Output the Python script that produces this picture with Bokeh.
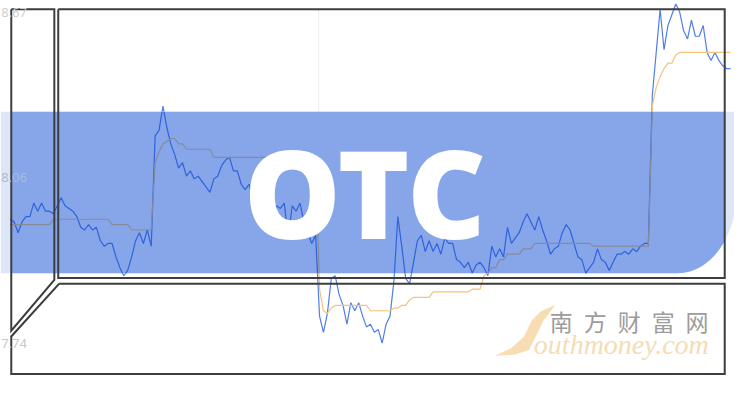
import numpy as np
from bokeh.plotting import figure
from bokeh.models import Range1d
from bokeh.core.properties import value
from bokeh.embed import file_html
from bokeh.resources import INLINE

# ---------------- data ----------------
price_close = [
    7.90, 7.89, 7.85, 7.89, 7.91, 7.91, 7.96, 7.93, 7.96, 7.93,
    7.93, 7.92, 7.95, 7.98, 7.95, 7.94, 7.93, 7.91, 7.87, 7.86,
    7.88, 7.86, 7.87, 7.82, 7.80, 7.81, 7.81, 7.76, 7.72, 7.69,
    7.71, 7.76, 7.82, 7.85, 7.81, 7.86, 7.80, 8.21, 8.23, 8.32,
    8.24, 8.18, 8.14, 8.09, 8.11, 8.06, 8.08, 8.05, 8.06, 8.04,
    8.02, 8.00, 8.05, 8.06, 8.10, 8.12, 8.13, 8.08, 8.08, 8.03,
    8.01, 8.03, 7.98, 7.96, 7.95, 7.96, 7.93, 7.92, 7.95, 7.94,
    7.96, 7.83, 7.95, 7.93, 7.96, 7.89, 7.85, 7.81, 7.84, 7.54,
    7.48, 7.55, 7.68, 7.69, 7.62, 7.58, 7.51, 7.59, 7.56, 7.59,
    7.54, 7.50, 7.51, 7.48, 7.49, 7.44, 7.51, 7.54, 7.67, 7.91,
    7.80, 7.68, 7.66, 7.74, 7.82, 7.84, 7.78, 7.82, 7.78, 7.81,
    7.77, 7.83, 7.81, 7.81, 7.75, 7.74, 7.72, 7.74, 7.70, 7.73,
    7.74, 7.72, 7.69, 7.80, 7.76, 7.79, 7.76, 7.87, 7.81, 7.83,
    7.85, 7.89, 7.92, 7.89, 7.86, 7.91, 7.86, 7.82, 7.77, 7.79,
    7.80, 7.85, 7.88, 7.86, 7.81, 7.76, 7.75, 7.70, 7.72, 7.74,
    7.79, 7.75, 7.74, 7.71, 7.74, 7.77, 7.77, 7.78, 7.77, 7.79,
    7.78, 7.80, 7.81, 7.81, 8.36, 8.52, 8.68, 8.53, 8.62, 8.66,
    8.70, 8.67, 8.60, 8.57, 8.64, 8.58, 8.58, 8.62, 8.52, 8.49,
    8.52, 8.49, 8.47, 8.46, 8.46,
]

price_avg = [
    7.88, 7.88, 7.88, 7.88, 7.88, 7.88, 7.88, 7.88, 7.88, 7.88,
    7.88, 7.90, 7.90, 7.90, 7.90, 7.90, 7.90, 7.90, 7.90, 7.90,
    7.90, 7.90, 7.90, 7.90, 7.90, 7.90, 7.88, 7.88, 7.88, 7.88,
    7.88, 7.86, 7.86, 7.86, 7.86, 7.86, 7.86, 8.11, 8.15, 8.18,
    8.19, 8.20, 8.20, 8.18, 8.18, 8.16, 8.16, 8.16, 8.16, 8.16,
    8.16, 8.16, 8.13, 8.13, 8.13, 8.13, 8.13, 8.13, 8.13, 8.13,
    8.13, 8.13, 8.13, 8.13, 8.13, 8.13, 8.13, 8.13, 8.13, 8.13,
    8.13, 8.13, 8.13, 8.13, 8.13, 8.13, 8.13, 8.13, 8.13, 7.64,
    7.56, 7.55, 7.57, 7.58, 7.58, 7.58, 7.58, 7.58, 7.58, 7.58,
    7.58, 7.58, 7.56, 7.56, 7.56, 7.56, 7.56, 7.56, 7.57, 7.57,
    7.58, 7.58, 7.60, 7.61, 7.61, 7.61, 7.61, 7.61, 7.63, 7.63,
    7.63, 7.63, 7.63, 7.63, 7.63, 7.63, 7.63, 7.63, 7.64, 7.64,
    7.64, 7.69, 7.70, 7.72, 7.72, 7.75, 7.75, 7.77, 7.77, 7.77,
    7.77, 7.79, 7.79, 7.79, 7.81, 7.81, 7.81, 7.81, 7.81, 7.81,
    7.81, 7.81, 7.81, 7.81, 7.81, 7.81, 7.81, 7.81, 7.81, 7.80,
    7.80, 7.80, 7.80, 7.80, 7.80, 7.80, 7.80, 7.80, 7.80, 7.80,
    7.80, 7.80, 7.80, 7.80, 8.32, 8.39, 8.43, 8.46, 8.48, 8.48,
    8.51, 8.52, 8.52, 8.52, 8.52, 8.52, 8.52, 8.52, 8.52, 8.52,
    8.52, 8.52, 8.52, 8.52, 8.52,
]

tick_labels = ["8.67", "8.06", "7.74"]
headline = "OTC"
brand_cn = ["南", "方", "财", "富", "网"]
brand_en = "outhmoney.com"

# ---------------- layout (reference pixel space, 750 x 400) ----------------
X0, X1, Y0, Y1 = 0, 750, 0, 400
DAY_X0, DAY_DX = 10, 4
PRICE_REF, PRICE_REF_Y, PX_PER_UNIT = 8.67, 12, 171 / 0.61
BAND_TOP, BAND_BOT = 116, 284
EC_X, EC_Y, EC_RX, EC_RY = 692, 200, 60, 84   # rounded band corner


def price_at(y):
    return PRICE_REF - (y - PRICE_REF_Y) / PX_PER_UNIT


def day_at(x):
    return (x - DAY_X0) / DAY_DX


def clip_band(xs, ys, lo, hi):
    lines_x, lines_y = [], []
    cur_x = cur_y = None
    for k in range(len(xs) - 1):
        x0, y0, x1, y1 = float(xs[k]), ys[k], float(xs[k + 1]), ys[k + 1]
        if y1 == y0:
            if not (lo <= y0 <= hi):
                cur_x = None
                continue
            t0, t1 = 0.0, 1.0
        else:
            ta, tb = (lo - y0) / (y1 - y0), (hi - y0) / (y1 - y0)
            t0, t1 = max(0.0, min(ta, tb)), min(1.0, max(ta, tb))
            if t0 >= t1:
                cur_x = None
                continue
        ax, ay = x0 + (x1 - x0) * t0, y0 + (y1 - y0) * t0
        bx, by = x0 + (x1 - x0) * t1, y0 + (y1 - y0) * t1
        if cur_x is not None and t0 == 0.0:
            cur_x.append(bx)
            cur_y.append(by)
        else:
            cur_x, cur_y = [ax, bx], [ay, by]
            lines_x.append(cur_x)
            lines_y.append(cur_y)
        if t1 < 1.0:
            cur_x = None
    return lines_x, lines_y


p = figure(width=734, height=384, x_range=Range1d(X0, X1), y_range=Range1d(Y1, Y0),
           output_backend="svg", toolbar_location=None, min_border=0,
           x_axis_location=None, y_axis_location=None,
           background_fill_color="white", border_fill_color="white",
           outline_line_color=None)
p.grid.visible = False
p.extra_x_ranges = {"day": Range1d(day_at(X0), day_at(X1))}
p.extra_y_ranges = {"price": Range1d(price_at(Y1), price_at(Y0))}

days = np.arange(len(price_close))

# faint grid line
p.segment(x0=[325], y0=[9], x1=[325], y1=[289], line_color="#ececec", line_width=1)

# lines (outside band colours)
p.line(days, price_close, x_range_name="day", y_range_name="price",
       line_color="#4f7fe8", line_width=1.2)
p.line(days, price_avg, x_range_name="day", y_range_name="price",
       line_color="#f3c47a", line_width=1.2)

# band: light full shape, darker inside the frames
th_full = np.linspace(np.pi / 2, 0, 40)
lx = [0, EC_X + EC_RX, EC_X + EC_RX] + list(EC_X + EC_RX * np.sin(th_full)) + [0]
ly = [BAND_TOP, BAND_TOP, EC_Y] + list(EC_Y + EC_RY * np.cos(th_full)) + [BAND_BOT]
p.patch(lx, ly, fill_color="#dde6f7", line_color=None)

th_in = np.linspace(np.arcsin((740 - EC_X) / EC_RX), 0, 30)
dx = [11, 740] + list(EC_X + EC_RX * np.sin(th_in)) + [11]
dy = [BAND_TOP, BAND_TOP] + list(EC_Y + EC_RY * np.cos(th_in)) + [BAND_BOT]
p.patch(dx, dy, fill_color="#86a6e9", line_color=None)

# lines seen through the band
lo, hi = price_at(BAND_BOT), price_at(BAND_TOP)
cx, cy = clip_band(days, price_close, lo, hi)
p.multi_line(cx, cy, x_range_name="day", y_range_name="price",
             line_color="#2f62dc", line_width=1.2)
ax_, ay_ = clip_band(days, price_avg, lo, hi)
p.multi_line(ax_, ay_, x_range_name="day", y_range_name="price",
             line_color="#868b9a", line_width=1.2)

# frames
frame_col = "#3d3d3d"
p.line([11, 55, 55, 11, 11], [9, 9, 291, 344, 9], line_color=frame_col,
       line_width=2, line_join="miter")
p.line([59, 740, 740, 59, 59], [9, 9, 289, 289, 9], line_color=frame_col,
       line_width=2, line_join="miter")
p.line([60, 740, 740, 11, 11, 60], [295, 295, 389, 389, 350, 295], line_color=frame_col,
       line_width=2, line_join="miter")

# headline
p.text(x=[372.5], y=[199], text=[headline], text_font=value("Open Sans ExtraBold"),
       text_font_style="bold", text_font_size="122px", text_color="white",
       text_align="center", text_baseline="middle")

# tick labels
p.text(x=[27, 27, 27], y=[12, 184, 357], text=tick_labels, text_align="right",
       text_baseline="middle", text_font_size="13px",
       text_color=["#d0d0d0", "#aebbd8", "#c8c8c8"], text_font=value("Noto Sans"))

# watermark
sx = [567, 552, 543, 535, 522, 505, 525, 540, 547, 555, 567]
sy = [317, 324, 333, 350, 362, 370, 369, 364, 350, 333, 317]
p.patch(sx, sy, fill_color="#f7d7a4", fill_alpha=0.85, line_color=None)
p.text(x=[573 + 34.7 * k for k in range(len(brand_cn))], y=[334] * len(brand_cn),
       text=brand_cn, text_font=value("Noto Sans CJK SC"), text_font_size="23px",
       text_color="#9c9c9c", text_align="center", text_baseline="middle")
p.text(x=[545], y=[358], text=[brand_en], text_font=value("Liberation Serif"),
       text_font_style="italic", text_font_size="28px", text_color="#f5dcb3",
       text_align="left", text_baseline="middle")

open("out.html", "w").write(file_html(p, INLINE))
